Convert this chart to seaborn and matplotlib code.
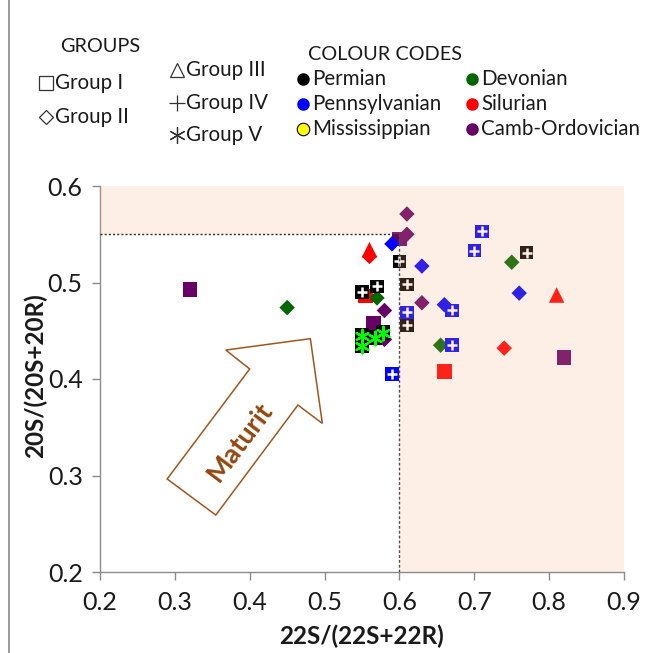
import numpy as np
import pandas as pd
import matplotlib
matplotlib.use("Agg")
import matplotlib.pyplot as plt
from matplotlib.lines import Line2D
from matplotlib.patches import Polygon
import seaborn as sns

# ---- data -------------------------------------------------------------
ratio_22s = [0.55, 0.57, 0.60, 0.61, 0.61, 0.77,                 # Permian, Group IV
             0.55, 0.55, 0.567, 0.578,                            # Permian, Group V
             0.59, 0.63, 0.66, 0.76,                              # Pennsylvanian, Group II
             0.61, 0.59, 0.67, 0.67, 0.70, 0.71,                  # Pennsylvanian, Group IV
             0.45, 0.57, 0.655, 0.75,                             # Devonian, Group II
             0.555, 0.66,                                         # Silurian, Group I
             0.56, 0.74,                                          # Silurian, Group II
             0.56, 0.81,                                          # Silurian, Group III
             0.32, 0.60, 0.565, 0.82,                             # Camb-Ordovician, Group I
             0.61, 0.61, 0.58, 0.58, 0.63]                        # Camb-Ordovician, Group II
ratio_20s = [0.490, 0.496, 0.522, 0.498, 0.456, 0.531,
             0.445, 0.434, 0.443, 0.448,
             0.540, 0.517, 0.477, 0.489,
             0.469, 0.405, 0.471, 0.435, 0.533, 0.553,
             0.474, 0.484, 0.435, 0.521,
             0.486, 0.408,
             0.527, 0.432,
             0.534, 0.487,
             0.493, 0.545, 0.458, 0.422,
             0.571, 0.550, 0.471, 0.441, 0.479]
group = (["Group IV"] * 6 + ["Group V"] * 4 + ["Group II"] * 4 + ["Group IV"] * 6
         + ["Group II"] * 4 + ["Group I"] * 2 + ["Group II"] * 2 + ["Group III"] * 2
         + ["Group I"] * 4 + ["Group II"] * 5)
period = (["Permian"] * 10 + ["Pennsylvanian"] * 10 + ["Devonian"] * 4
          + ["Silurian"] * 6 + ["Camb-Ordovician"] * 9)

period_names = ["Permian", "Pennsylvanian", "Mississippian",
                "Devonian", "Silurian", "Camb-Ordovician"]
period_colours = ["#000000", "#0000ff", "#ffff00", "#006600", "#ff0000", "#660066"]
group_names = ["Group I", "Group II", "Group III", "Group IV", "Group V"]

x_ticks = [0.2, 0.3, 0.4, 0.5, 0.6, 0.7, 0.8, 0.9]
y_ticks = [0.2, 0.3, 0.4, 0.5, 0.6]

# ---- style ------------------------------------------------------------
sns.set_style("white")
plt.rcParams["font.family"] = ["Lato", "DejaVu Sans"]

df = pd.DataFrame({"x": ratio_22s, "y": ratio_20s, "group": group, "period": period})
palette = dict(zip(period_names, period_colours))

fig = plt.figure(figsize=(6.53, 6.53), dpi=100)
ax = fig.add_axes([100 / 653, 1 - 572 / 653, 524 / 653, 386 / 653])

# solid markers for groups I-III
for grp, mk, size in [("Group I", "s", 110), ("Group II", "D", 62), ("Group III", "^", 125)]:
    sub = df[df.group == grp]
    sns.scatterplot(data=sub, x="x", y="y", hue="period", palette=palette,
                    marker=mk, s=size, linewidth=0, legend=False, ax=ax, zorder=3)

# group IV: coloured tile with a white cross
sub = df[df.group == "Group IV"]
sns.scatterplot(data=sub, x="x", y="y", hue="period", palette=palette,
                marker="s", s=95, linewidth=0, legend=False, ax=ax, zorder=3)
sns.scatterplot(data=sub, x="x", y="y", color="white", marker="+",
                s=50, linewidth=1.8, legend=False, ax=ax, zorder=3.1)

# group V: black tile with a lime asterisk
sub = df[df.group == "Group V"]
sns.scatterplot(data=sub, x="x", y="y", hue="period", palette=palette,
                marker="s", s=110, linewidth=0, legend=False, ax=ax, zorder=3.2)
sns.scatterplot(data=sub, x="x", y="y", color="#00ff00", marker=(6, 2, 0),
                s=95, linewidth=1.6, legend=False, ax=ax, zorder=3.3)

# mature zone shading (translucent, laid over the points)
zone = Polygon([(0.2, 0.55), (0.6, 0.55), (0.6, 0.2), (0.9, 0.2), (0.9, 0.6), (0.2, 0.6)],
               closed=True, facecolor=(245 / 255, 175 / 255, 125 / 255), alpha=0.2,
               edgecolor="none", zorder=4)
ax.add_patch(zone)
ax.plot([0.2, 0.6], [0.55, 0.55], color="#303030", lw=1.0, ls=(0, (1.5, 1.5)), zorder=5)
ax.plot([0.6, 0.6], [0.2, 0.55], color="#505050", lw=1.0, ls=(0, (2, 1.5)), zorder=5)

# maturity arrow
arrow = Polygon([(0.2897, 0.2964), (0.400, 0.4104), (0.368, 0.430), (0.481, 0.4418),
                 (0.497, 0.354), (0.4644, 0.373), (0.3547, 0.259)],
                closed=True, facecolor="none", edgecolor="#a0561e", lw=1.1, zorder=2)
ax.add_patch(arrow)
ax.text(0.3867, 0.335, "Maturit", rotation=53, rotation_mode="anchor",
        ha="center", va="center", fontsize=19.5, fontweight="bold", color="#94470f", zorder=2)

# axes
ax.set_xlim(0.2, 0.9)
ax.set_ylim(0.2, 0.6)
ax.set_xticks(x_ticks)
ax.set_yticks(y_ticks)
ax.set_xticklabels([f"{v:.1f}" for v in x_ticks])
ax.set_yticklabels([f"{v:.1f}" for v in y_ticks])
for side in ["top", "right"]:
    ax.spines[side].set_visible(False)
for side in ["left", "bottom"]:
    ax.spines[side].set_color("#8a8a8a")
    ax.spines[side].set_linewidth(1.0)
ax.tick_params(axis="both", which="both", bottom=True, left=True, direction="out",
               length=5.5, width=1.0, color="#8a8a8a", labelsize=18, labelcolor="#1a1a1a")
ax.tick_params(axis="x", pad=8)
ax.tick_params(axis="y", pad=7)
ax.set_xlabel("22S/(22S+22R)", fontsize=17.5, fontweight="bold", color="#1a1a1a", va="center")
ax.set_ylabel("20S/(20S+20R)", fontsize=17.5, fontweight="bold", color="#1a1a1a", va="center")
ax.xaxis.set_label_coords(0.5, (572 - 636) / 386)
ax.yaxis.set_label_coords((35 - 100) / 524, (572 - 376) / 386)

# chart frame edge
fig.add_artist(Line2D([9 / 653, 9 / 653], [0, 1], color="#8a8a8a", lw=1.2,
                      transform=fig.transFigure))

# ---- legend ------------------------------------------------------------
def fx(px):
    return px / 653

def fy(py):
    return 1 - py / 653

lfs = 14.8
fig.text(fx(100), fy(47), "GROUPS", ha="center", va="center", fontsize=lfs - 0.5, color="#1a1a1a")
group_keys = [("s", 46, 83), ("D", 46, 117), ("^", 177, 70), ("+", 177, 103), ((6, 2, 0), 177, 135)]
key_sizes = [10, 7.5, 10, 12, 12]
for name, (mk, px, py), ms in zip(group_names, group_keys, key_sizes):
    filled = mk in ("s", "D", "^")
    fig.add_artist(Line2D([fx(px)], [fy(py)], marker=mk, markersize=ms,
                          markerfacecolor="white" if filled else "none",
                          markeredgecolor="#333333", markeredgewidth=0.9,
                          linestyle="none", transform=fig.transFigure))
    fig.text(fx(px + 9), fy(py), name, ha="left", va="center", fontsize=lfs, color="#1a1a1a")

fig.text(fx(385), fy(54), "COLOUR CODES", ha="center", va="center", fontsize=lfs - 0.5, color="#1a1a1a")
colour_keys = [(303, 79), (303, 104), (303, 129), (472, 79), (472, 104), (472, 129)]
for name, colour, (px, py) in zip(period_names, period_colours, colour_keys):
    fig.add_artist(Line2D([fx(px)], [fy(py)], marker="o", markersize=9,
                          markerfacecolor=colour, markeredgecolor="black",
                          markeredgewidth=0.8 if colour == "#ffff00" else 0,
                          linestyle="none", transform=fig.transFigure))
    fig.text(fx(px + 9), fy(py), name, ha="left", va="center", fontsize=lfs, color="#1a1a1a")

fig.savefig("out.png", dpi=100)
